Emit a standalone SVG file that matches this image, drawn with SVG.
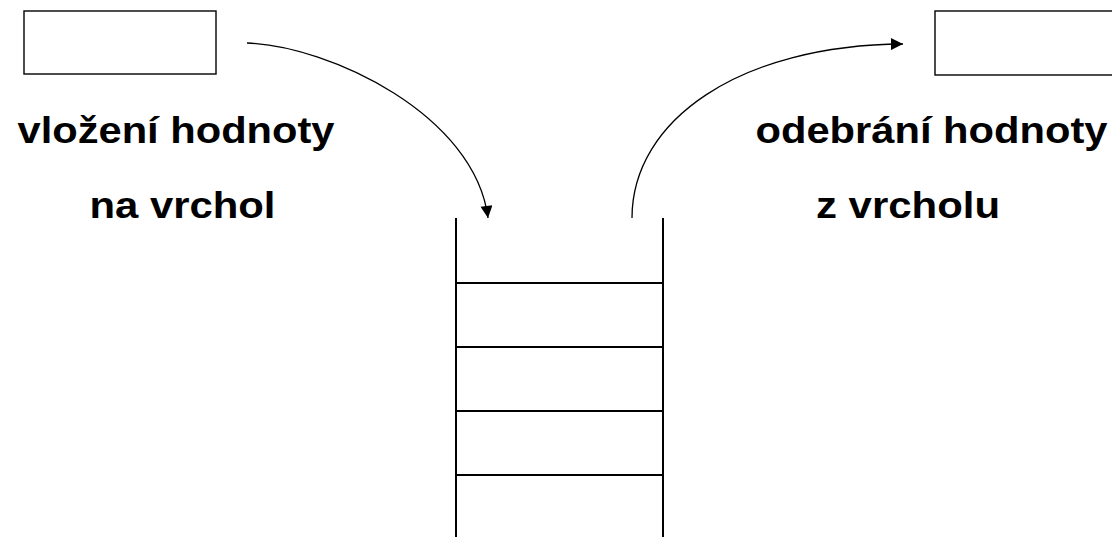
<svg xmlns="http://www.w3.org/2000/svg" width="1112" height="537" viewBox="0 0 1112 537">
  <style>
    .box { fill: #fff; stroke: #000; stroke-width: 1.4; }
    .stack { stroke: #000; stroke-width: 2; fill: none; }
    .conn { fill: none; stroke: #000; stroke-width: 1.3; }
    .lbl { font-family: "Liberation Sans", Arial, sans-serif; font-weight: bold; font-size: 36px; fill: #000; }
  </style>
  <defs>
    <marker id="arrow" viewBox="0 0 12 12" refX="12" refY="6" markerWidth="14" markerHeight="12" markerUnits="userSpaceOnUse" orient="auto">
      <path d="M0,0 L12,6 L0,12 Z" fill="#000"/>
    </marker>
  </defs>
  <rect width="1112" height="537" fill="#fff"/>
  <g id="source-box">
    <rect class="box" x="24" y="11" width="192" height="63"/>
  </g>
  <g id="target-box">
    <rect class="box" x="935" y="11" width="200" height="64"/>
  </g>
  <g id="push-label">
    <text class="lbl" x="17.5" y="142.5" textLength="317" lengthAdjust="spacingAndGlyphs">vložení hodnoty</text>
    <text class="lbl" x="89.5" y="218" textLength="186" lengthAdjust="spacingAndGlyphs">na vrchol</text>
  </g>
  <g id="pop-label">
    <text class="lbl" x="755.5" y="142.5" textLength="352" lengthAdjust="spacingAndGlyphs">odebrání hodnoty</text>
    <text class="lbl" x="816" y="218" textLength="184" lengthAdjust="spacingAndGlyphs">z vrcholu</text>
  </g>
  <g id="stack">
    <line class="stack" x1="456" y1="218" x2="456" y2="537"/>
    <line class="stack" x1="663" y1="218" x2="663" y2="537"/>
    <line class="stack" x1="456" y1="283" x2="663" y2="283"/>
    <line class="stack" x1="456" y1="347" x2="663" y2="347"/>
    <line class="stack" x1="456" y1="411" x2="663" y2="411"/>
    <line class="stack" x1="456" y1="475" x2="663" y2="475"/>
  </g>
  <g id="connectors">
    <path class="conn" d="M247,43 C330,46 475,115 488,218" marker-end="url(#arrow)"/>
    <path class="conn" d="M632,218 C632,120 740,45 903,44" marker-end="url(#arrow)"/>
  </g>
</svg>
